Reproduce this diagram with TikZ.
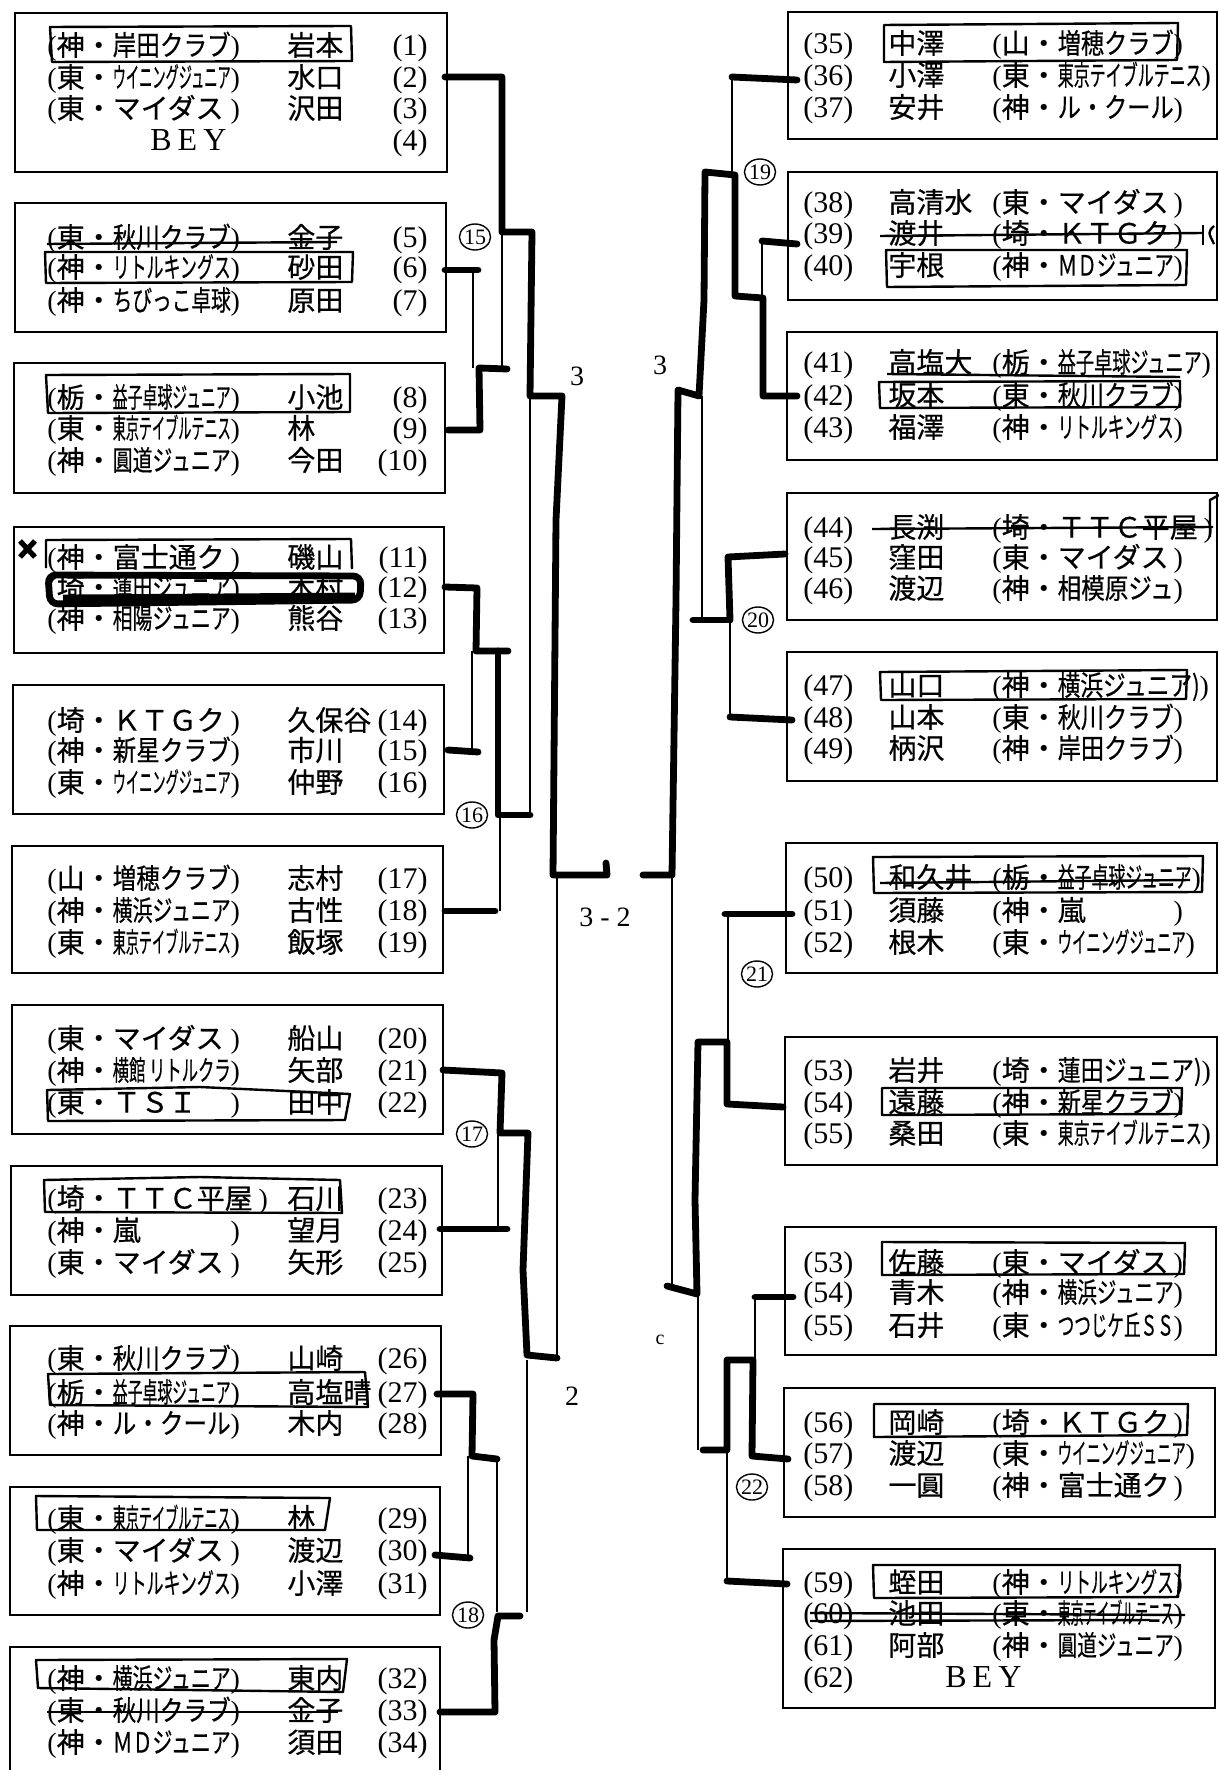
\documentclass[tikz,border=0pt]{standalone}
\usepackage{fontspec}
\usepackage{graphicx}
\setmainfont{Liberation Serif}
\newfontfamily\jp[FakeBold=0.5]{Noto Sans CJK JP}
\newsavebox\teambox
\newcommand\fitw[2]{\sbox\teambox{#2}%
  \ifdim\wd\teambox>#1\relax\resizebox{#1}{\height}{\usebox\teambox}%
  \else\makebox[#1][l]{\usebox\teambox}\fi}
\newcommand\club[3]{({\jp #1・}\fitw{#3}{\jp #2})}
\tikzset{
  frame/.style={line width=0.9pt},
  tie/.style={line width=0.7pt},
  win/.style={line width=3.4pt, line cap=round, line join=round},
  hand/.style={line width=1.2pt, line join=round},
  heavy/.style={line width=3.4pt, rounded corners=4pt},
  txt/.style={anchor=base west, inner sep=0pt, yshift=-5.3pt, font=\jp\fontsize{14}{16}\selectfont},
  clubtxt/.style={anchor=base west, inner sep=0pt, yshift=-5.3pt, font=\fontsize{14}{16}\selectfont},
  numtxt/.style={inner sep=0pt, yshift=-5.3pt, font=\fontsize{15}{16}\selectfont},
  circ/.style={ellipse, draw, line width=0.7pt, inner sep=0pt, minimum width=15pt, minimum height=13pt, font=\fontsize{11}{11}\selectfont},
  scrawl/.style={font=\fontsize{14}{14}\selectfont}
}
\usetikzlibrary{shapes.geometric}
\begin{document}
\begin{tikzpicture}[x=0.5pt, y=-0.5pt]
\fill[white] (0,0) rectangle (1219,1770);
\useasboundingbox (0,0) rectangle (1219,1770);

% left boxes
\draw[frame] (15,13) rectangle (447,172);
\draw[frame] (15,203) rectangle (446,332);
\draw[frame] (14,363) rectangle (445,493);
\draw[frame] (14,527) rectangle (444,653);
\draw[frame] (13,685) rectangle (444,814);
\draw[frame] (12,846) rectangle (443,973);
\draw[frame] (12,1005) rectangle (443,1134);
\draw[frame] (11,1166) rectangle (442,1295);
\draw[frame] (10,1326) rectangle (441,1455);
\draw[frame] (10,1487) rectangle (440,1615);
\draw[frame] (10,1775) -- (10,1647) -- (440,1647) -- (440,1775);

% right boxes
\draw[frame] (788,12) rectangle (1217,139);
\draw[frame] (788,172) rectangle (1217,300);
\draw[frame] (787,332) rectangle (1217,460);
\draw[frame] (787,493) rectangle (1217,620);
\draw[frame] (787,652) rectangle (1217,781);
\draw[frame] (786,843) rectangle (1217,973);
\draw[frame] (785,1037) rectangle (1217,1165);
\draw[frame] (785,1227) rectangle (1216,1355);
\draw[frame] (784,1388) rectangle (1215,1517);
\draw[frame] (783,1549) rectangle (1215,1708);

% left entries
\foreach \n/\pf/\tm/\nm/\w/\y in {
  1/神/岸田クラブ/岩本/59pt/45, 2/東/ウイニングジュニア/水口/59pt/77,
  3/東/マイダス/沢田/59pt/108,
  5/東/秋川クラブ/金子/59pt/237, 6/神/リトルキングス/砂田/59pt/267,
  7/神/ちびっこ卓球/原田/59pt/300,
  8/栃/益子卓球ジュニア/小池/59pt/397, 9/東/東京テイブルテニス/林/59pt/428,
  10/神/圓道ジュニア/今田/59pt/460,
  11/神/富士通ク/磯山/59pt/557, 12/埼/蓮田ジュニア/木村/59pt/587,
  13/神/相陽ジュニア/熊谷/59pt/618,
  14/埼/ＫＴＧク/久保谷/59pt/720, 15/神/新星クラブ/市川/59pt/750,
  16/東/ウイニングジュニア/仲野/59pt/782,
  17/山/増穂クラブ/志村/59pt/878, 18/神/横浜ジュニア/古性/59pt/910,
  19/東/東京テイブルテニス/飯塚/59pt/942,
  20/東/マイダス/船山/59pt/1038, 21/神/横館 リトルクラ/矢部/59pt/1070,
  22/東/ＴＳＩ/田中/59pt/1102,
  23/埼/ＴＴＣ平屋/石川/73pt/1198, 24/神/嵐/望月/59pt/1230,
  25/東/マイダス/矢形/59pt/1262,
  26/東/秋川クラブ/山崎/59pt/1358, 27/栃/益子卓球ジュニア/高塩晴/59pt/1392,
  28/神/ル・クール/木内/59pt/1423,
  29/東/東京テイブルテニス/林/59pt/1518, 30/東/マイダス/渡辺/59pt/1550,
  31/神/リトルキングス/小澤/59pt/1583,
  32/神/横浜ジュニア/東内/59pt/1678, 33/東/秋川クラブ/金子/59pt/1710,
  34/神/ＭＤジュニア/須田/59pt/1742}
{
  \node[clubtxt] (lc\n) at (47,\y) {\club{\pf}{\tm}{\w}};
  \node[txt] (ln\n) at (287,\y) {\nm};
  \node[numtxt, anchor=base east] (lx\n) at (428,\y) {(\n)};
}
\node[clubtxt, font=\fontsize{16}{16}\selectfont] (lbey) at (150,140) {B\hspace{3pt}E\hspace{3pt}Y};
\node[numtxt, anchor=base east] (lx4) at (428,140) {(4)};

% right entries
\foreach \k/\n/\nm/\pf/\tm/\w/\y in {
  a/35/中澤/山/増穂クラブ/58pt/43, b/36/小澤/東/東京テイブルテニス/72pt/75,
  c/37/安井/神/ル・クール/58pt/107,
  d/38/高清水/東/マイダス/58pt/202, e/39/渡井/埼/ＫＴＧク/58pt/233,
  f/40/宇根/神/ＭＤジュニア/58pt/265,
  g/41/高塩大/栃/益子卓球ジュニア/72pt/362, h/42/坂本/東/秋川クラブ/58pt/395,
  i/43/福澤/神/リトルキングス/58pt/427,
  j/44/長渕/埼/ＴＴＣ平屋/73pt/527, k/45/窪田/東/マイダス/58pt/557,
  l/46/渡辺/神/相模原ジュ/58pt/588,
  m/47/山口/神/横浜ジュニア)/71pt/685, n/48/山本/東/秋川クラブ/58pt/717,
  o/49/柄沢/神/岸田クラブ/58pt/748,
  p/50/和久井/栃/益子卓球ジュニア/67pt/877, q/51/須藤/神/嵐/58pt/910,
  r/52/根木/東/ウイニングジュニア/64pt/942,
  s/53/岩井/埼/蓮田ジュニア)/72pt/1070, t/54/遠藤/神/新星クラブ/58pt/1102,
  u/55/桑田/東/東京テイブルテニス/72pt/1133,
  v/53/佐藤/東/マイダス/58pt/1262, w/54/青木/神/横浜ジュニア/58pt/1292,
  x/55/石井/東/つつじケ丘ＳＳ/58pt/1325,
  y/56/岡崎/埼/ＫＴＧク/58pt/1422, z/57/渡辺/東/ウイニングジュニア/64pt/1453,
  A/58/一圓/神/富士通ク/58pt/1485,
  B/59/蛭田/神/リトルキングス/58pt/1582, C/60/池田/東/東京テイブルテニス/58pt/1613,
  D/61/阿部/神/圓道ジュニア/58pt/1645}
{
  \node[numtxt, anchor=base west] (rx\k) at (803,\y) {(\n)};
  \node[txt] (rn\k) at (888,\y) {\nm};
  \node[clubtxt] (rc\k) at (992,\y) {\club{\pf}{\tm}{\w}};
}
\node[numtxt, anchor=base west] (rxE) at (803,1677) {(62)};
\node[clubtxt, font=\fontsize{16}{16}\selectfont] (rbey) at (945,1677) {B\hspace{3pt}E\hspace{3pt}Y};

% left bracket
\draw[win] (445,77) -- (502,77) -- (502,232) -- (532,232) -- (530,396) -- (562,396) -- (556,520) -- (553,875) -- (607,875) -- (606,863);
\draw[tie] (502,232) -- (502,370);
\draw[win] (445,270) -- (478,270);
\draw[tie] (473,270) -- (473,368);
\draw[win] (448,430) -- (480,430) -- (479,368) -- (507,369);
\draw[tie] (530,396) -- (530,812);
\draw[win] (445,587) -- (477,588) -- (476,651) -- (508,651);
\draw[tie] (472,651) -- (472,752);
\draw[win] (448,750) -- (478,752);
\draw[win] (498,651) -- (498,815) -- (530,815);
\draw[tie] (500,815) -- (500,911);
\draw[win] (445,911) -- (495,911);
\draw[tie] (557,875) -- (557,1360);
\draw[win] (443,1070) -- (502,1073) -- (500,1133) -- (528,1133) -- (523,1270) -- (527,1355) -- (557,1358);
\draw[tie] (498,1133) -- (498,1229);
\draw[win] (440,1229) -- (507,1229);
\draw[win] (437,1394) -- (473,1394) -- (472,1456) -- (497,1459);
\draw[tie] (468,1456) -- (468,1555);
\draw[win] (435,1555) -- (470,1558);
\draw[tie] (497,1459) -- (497,1612);
\draw[tie] (527,1360) -- (527,1612);
\draw[win] (440,1712) -- (495,1712) -- (494,1640) -- (498,1616) -- (520,1616);

% right bracket
\draw[win] (797,80) -- (732,77);
\draw[tie] (732,77) -- (732,172);
\draw[win] (797,396) -- (763,396) -- (763,298) -- (735,296) -- (735,175) -- (705,172) -- (704,300) -- (699,396) -- (678,390) -- (676,600) -- (672,875) -- (643,875);
\draw[win] (797,244) -- (762,241);
\draw[tie] (762,241) -- (762,298);
\draw[tie] (702,396) -- (702,620);
\draw[win] (693,620) -- (727,620);
\draw[win] (785,554) -- (728,557) -- (730,620);
\draw[tie] (730,620) -- (730,717);
\draw[win] (792,720) -- (730,717);
\draw[win] (792,914) -- (725,914);
\draw[tie] (728,914) -- (728,1042);
\draw[win] (783,1107) -- (727,1104) -- (727,1042) -- (698,1042) -- (695,1200) -- (697,1294) -- (667,1286);
\draw[tie] (672,875) -- (672,1286);
\draw[tie] (698,1294) -- (698,1450);
\draw[win] (703,1450) -- (727,1450) -- (727,1360) -- (753,1360) -- (752,1456) -- (788,1459);
\draw[tie] (755,1297) -- (755,1362);
\draw[win] (755,1297) -- (793,1297);
\draw[tie] (727,1453) -- (727,1581);
\draw[win] (727,1581) -- (787,1584);

% round numbers
\node[circ] (r15) at (475,237) {15};
\node[circ] (r16) at (472,815) {16};
\node[circ] (r17) at (472,1134) {17};
\node[circ] (r18) at (468,1615) {18};
\node[circ] (r19) at (760,172) {19};
\node[circ] (r20) at (758,620) {20};
\node[circ] (r21) at (757,974) {21};
\node[circ] (r22) at (752,1487) {22};

% scribbled scores
\node[scrawl] (s1) at (577,376) {3};
\node[scrawl] (s2) at (660,365) {3};
\node[scrawl] (s3) at (605,917) {3 - 2};
\node[scrawl] (s4) at (572,1396) {2};
\node[scrawl, font=\fontsize{10}{10}\selectfont] (s5) at (660,1340) {c};

% marks on the left
\draw[hand] (50,27) -- (52,62) -- (352,61) -- (351,26) -- cycle;
\draw[hand] (47,244) -- (337,242);
\draw[hand] (45,252) -- (46,283) -- (352,282) -- (353,252) -- cycle;
\draw[hand] (46,375) -- (48,413) -- (350,412) -- (350,374) -- cycle;
\draw[hand] (46,568) -- (46,540) -- (351,539) -- (352,569);
\draw[heavy] (48,575) -- (50,604) -- (360,600) -- (361,576) -- cycle;
\draw[line width=3.4pt] (63,598) -- (355,596);
\draw[line width=2.6pt] (20,541) -- (35,557) (20,557) -- (35,541);
\draw[hand] (47,1090) -- (48,1121) -- (345,1120) -- (350,1094) -- (200,1087) -- cycle;
\draw[hand] (44,1180) -- (45,1212) -- (342,1213) -- (340,1180) -- (200,1177) -- cycle;
\draw[hand] (48,1374) -- (50,1405) -- (368,1407) -- (365,1372) -- cycle;
\draw[hand] (37,1530) -- (36,1496) -- (330,1498) -- (325,1530) -- cycle;
\draw[hand] (36,1660) -- (38,1688) -- (343,1692) -- (347,1659) -- cycle;
\draw[hand] (47,1712) -- (338,1712);

% marks on the right
\draw[hand] (884,25) -- (884,62) -- (1177,60) -- (1178,23) -- cycle;
\draw[hand] (880,236) -- (1203,233);
\draw[hand] (1203,225) -- (1203,245);
\draw[hand] (1214,226) .. controls (1208,232) .. (1214,244);
\draw[hand] (886,250) -- (887,287) -- (1186,285) -- (1187,250) -- cycle;
\draw[hand] (887,374) -- (1180,377);
\draw[hand] (879,382) -- (880,408) -- (1180,407) -- (1180,381) -- cycle;
\draw[hand] (872,529) -- (1213,527);
\draw[hand] (1210,537) -- (1210,500) -- (1219,495);
\draw[hand] (880,672) -- (881,700) -- (1186,699) -- (1187,670) -- cycle;
\draw[hand] (873,857) -- (874,893) -- (1202,892) -- (1203,856) -- cycle;
\draw[hand] (880,883) -- (1190,880);
\draw[hand] (882,1088) -- (882,1115) -- (1181,1114) -- (1182,1088) -- cycle;
\draw[hand] (882,1242) -- (882,1275) -- (1184,1274) -- (1185,1243) -- cycle;
\draw[hand] (874,1404) -- (874,1437) -- (1187,1435) -- (1188,1404) -- cycle;
\draw[hand] (873,1565) -- (874,1598) -- (1178,1597) -- (1180,1565) -- cycle;
\draw[hand] (810,1613) -- (1185,1615);
\draw[hand] (810,1621) -- (1150,1620);
\end{tikzpicture}
\end{document}
